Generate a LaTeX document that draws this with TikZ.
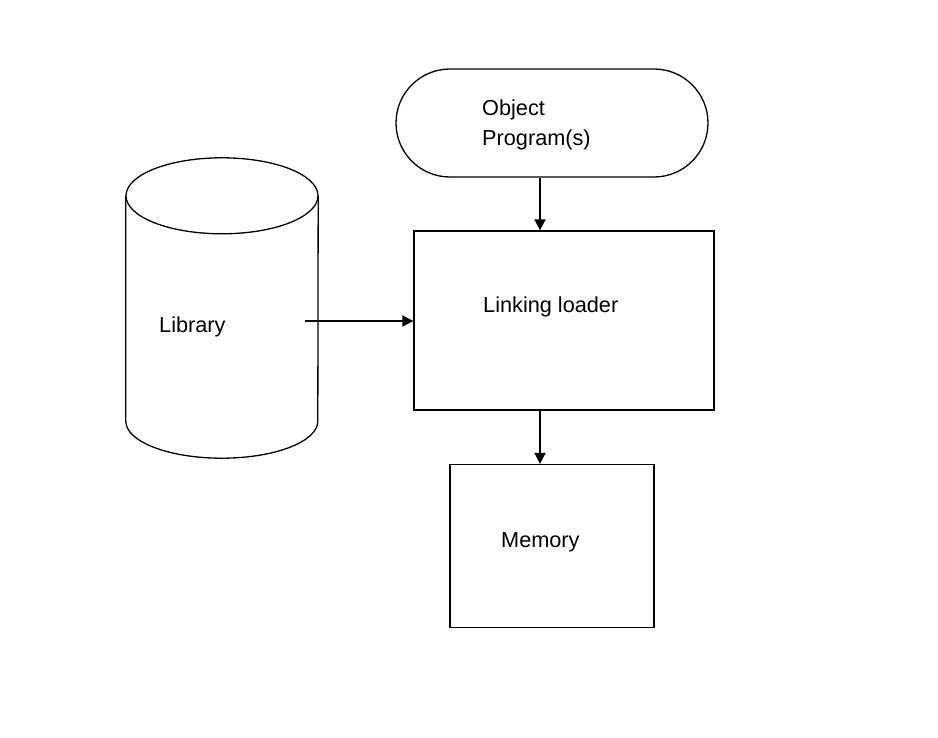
\documentclass[tikz,border=0pt]{standalone}
\usepackage{fontspec}
\setmainfont{Liberation Sans}
\usetikzlibrary{positioning, arrows.meta, calc}
\tikzstyle{flowbox} =[draw, line width=1.3pt, inner sep=0pt]
\tikzstyle{flowline} =[line width=1.3pt]
\tikzstyle{flowtext} =[font=\fontsize{21.7}{30}\selectfont, align=left, inner sep=0pt]
\tikzstyle{flowarrow} =[-{Triangle[length=11pt, width=11pt]}, line width=1.8pt, black]

\begin{document}
\begin{tikzpicture}[x=1pt, y=-1pt]
\useasboundingbox (0,0) rectangle (938,738);

\node (objProg) [flowbox, rounded corners=54pt, minimum width=312pt, minimum height=108pt] at (552,123) {};
\node (objProgText) [flowtext, anchor=base west] at (482,146) {Object\\Program(s)};

\node (loader) [flowbox, minimum width=300pt, minimum height=179pt] at (564,320.5) {};
\node (loaderText) [flowtext, anchor=base west] at (483,313) {Linking loader};

\node (memory) [flowbox, minimum width=204pt, minimum height=163pt] at (552,546) {};
\node (memoryText) [flowtext, anchor=base west] at (501,547) {Memory};

% cylinder drawn round an empty node
\node (library) [inner sep=0pt, minimum width=192pt, minimum height=300pt] at (222,308) {};
\draw[flowline] ($(library.north)+(0,38)$) ellipse [x radius=96, y radius=38];
\draw[flowline] ($(library.north west)+(0,38)$) -- ($(library.south west)+(0,-37)$)
	arc [start angle=180, end angle=0, x radius=96, y radius=37] -- ($(library.north east)+(0,38)$);
\node (libraryText) [flowtext, anchor=base west] at (159,333) {Library};

\coordinate (midCol) at (540,0);
\coordinate (libOut) at (305,321);

\draw[flowarrow] (objProg.south -| midCol) -- (loader.north -| midCol);
\draw[flowarrow] (libOut) -- (libOut -| loader.west);
\draw[flowarrow] (loader.south -| midCol) -- (memory.north -| midCol);
\end{tikzpicture}
\end{document}
